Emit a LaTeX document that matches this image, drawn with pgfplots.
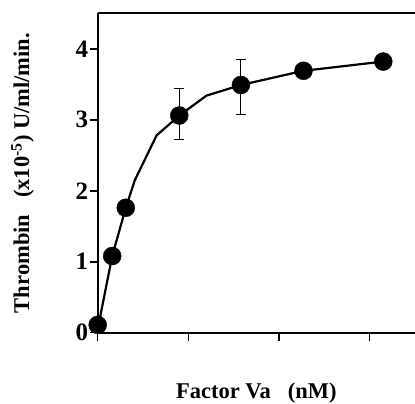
\documentclass[border=0pt]{standalone}
\usepackage{pgfplots}
\pgfplotsset{compat=1.18}
\usepackage{fontspec}
\setmainfont{Liberation Serif}

\begin{document}
\begin{tikzpicture}
\begin{axis}[
    scale only axis,
    width=317.3pt,
    height=319.4pt,
    xmin=0, xmax=3.5,
    ymin=0, ymax=4.5,
    axis x line*=bottom,
    axis y line*=left,
    axis line style={line width=1.8pt, -},
    xtick={0,1,2,3},
    xticklabels={},
    ytick={0,1,2,3,4},
    tick align=outside,
    major tick length=8pt,
    tick style={line width=1.6pt, black},
    /pgf/number format/assume math mode=true,
    yticklabel style={font=\fontsize{25}{26}\selectfont\bfseries, xshift=2pt},
    xlabel={Factor Va\ \ \ (nM)},
    ylabel={Thrombin\ \ \ (x10\textsuperscript{-5}) U/ml/min.},
    label style={font=\fontsize{22.5}{23}\selectfont\bfseries},
    xlabel style={at={(axis description cs:0.5,0)}, anchor=center, yshift=-60pt},
    ylabel style={at={(axis description cs:0,0.5)}, anchor=center, yshift=75pt},
    clip=false,
]
    % fitted curve
    \addplot[black, line width=2.2pt, mark=none] coordinates {
        (0,0.05) (0.16,1.08) (0.31,1.76) (0.41,2.15) (0.65,2.78)
        (0.90,3.06) (1.20,3.34) (1.58,3.49) (2.27,3.69) (3.15,3.82)
    };
    % measured points
    \addplot[black, only marks, mark=*, mark size=9pt,
        error bars/.cd, y dir=both, y explicit,
        error bar style={line width=1pt, black},
        error mark options={rotate=90, mark size=5pt, line width=1pt, black}]
        coordinates {
        (0,0.11) (0.16,1.08) (0.31,1.76)
        (0.90,3.06) += (0,0.38) -= (0,0.34)
        (1.58,3.49) += (0,0.36) -= (0,0.41)
        (2.27,3.69) (3.15,3.82)
    };
\end{axis}
\draw[line width=1.8pt] (0,319.4pt) -- (317.3pt,319.4pt);
\pgfresetboundingbox
\path (-97.7pt,-71.3pt) rectangle (317.3pt,332.7pt);
\end{tikzpicture}
\end{document}
